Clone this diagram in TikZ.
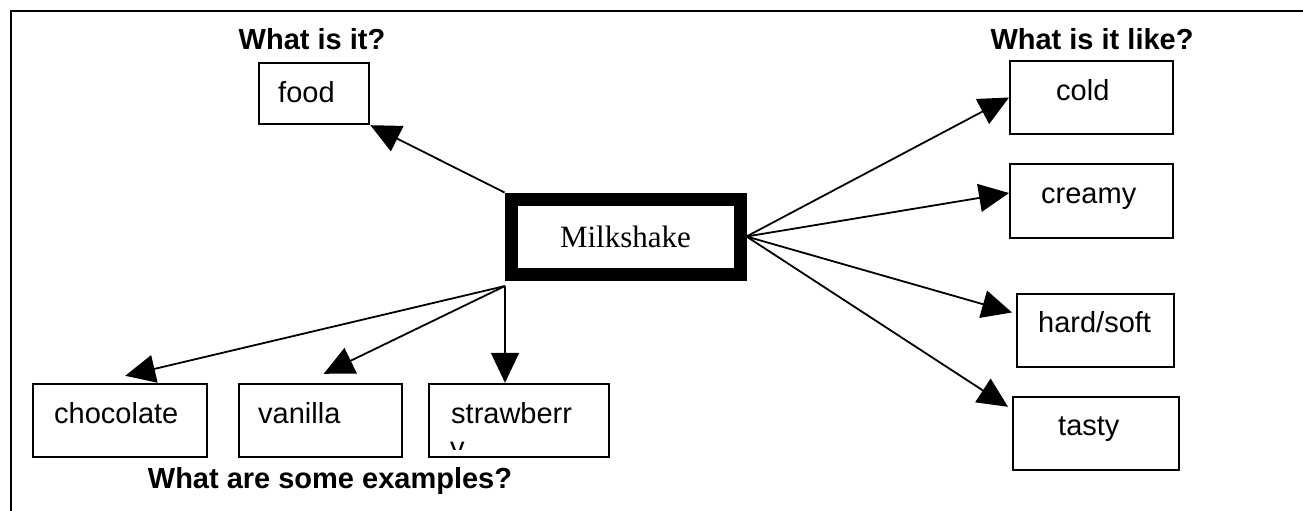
\documentclass[tikz,border=0pt]{standalone}
\usepackage{fontspec}
\setmainfont{Liberation Sans}
\newfontfamily\timesf{Liberation Serif}
\usetikzlibrary{arrows.meta,calc}
\begin{document}
\begin{tikzpicture}[x=1pt,y=-1pt,
  every node/.style={inner sep=0pt, font=\fontsize{29}{33}\selectfont},
  box/.style={draw, line width=2.4pt, align=left, anchor=base west, inner ysep=0pt},
  head/.style={font=\fontsize{29}{33}\selectfont\bfseries, anchor=base},
  conn/.style={line width=1.8pt, -{Triangle[length=30pt,width=28pt]}},
]
\useasboundingbox (0,0) rectangle (1303,511);
% frame
\draw[line width=2.5pt] (11,511) -- (11,11) -- (1303,11);

% headings
\node[head] (h1) at (312,50) {What is it?};
\node[head] (h2) at (1092,50) {What is it like?};
\node[head] (h3) at (330,488) {What are some examples?};

% centre
\node[draw, line width=13pt, minimum width=229pt, minimum height=75pt,
      font=\timesf\fontsize{31}{35}\selectfont] (m) at (625.5,236.5) {Milkshake};

% boxes
\node[box, inner xsep=19pt, text width=72pt, text height=39pt, text depth=22pt] (food) at (258,102) {food};

\node[box, inner xsep=21pt, text width=132pt, text height=39pt, text depth=34pt] (choc) at (32,423) {chocolate};
\node[box, inner xsep=19pt, text width=125pt, text height=39pt, text depth=34pt] (van) at (238,423) {vanilla};
\node[box, inner xsep=22pt, text width=136pt, text height=39pt, text depth=34pt] (straw) at (428,423) {strawberr};
\begin{scope}
  \clip (430,386) rectangle (606,449);
  \node[anchor=base west] (strawy) at (450,457) {y};
\end{scope}

\node[box, inner xsep=46pt, text width=71pt, text height=39pt, text depth=34pt] (cold) at (1009,100) {cold};
\node[box, inner xsep=31pt, text width=101pt, text height=39pt, text depth=35pt] (creamy) at (1009,203) {creamy};
\node[box, inner xsep=21pt, text width=115pt, text height=38pt, text depth=35pt] (hs) at (1016,332) {hard/soft};
\node[box, inner xsep=45pt, text width=76pt, text height=38pt, text depth=35pt] (tasty) at (1012,435) {tasty};

% connectors
\draw[conn] (m.north west) -- (food.south east);
\draw[conn] (m.east) -- (cold.west);
\draw[conn] (m.east) -- ($(creamy.west)+(0,-8)$);
\draw[conn] (m.east) -- ($(hs.west)+(-4,-18)$);
\draw[conn] (m.east) -- ($(tasty.north west)+(-4,11)$);
\coordinate (ms) at ($(m.south west)+(0.5,5.5)$);
\draw[conn] (ms) -- ($(choc.north)+(5,-7)$);
\draw[conn] (ms) -- ($(van.north)+(3,-9)$);
\draw[conn] (ms) -- ($(straw.north west)+(77,0)$);
\end{tikzpicture}
\end{document}
